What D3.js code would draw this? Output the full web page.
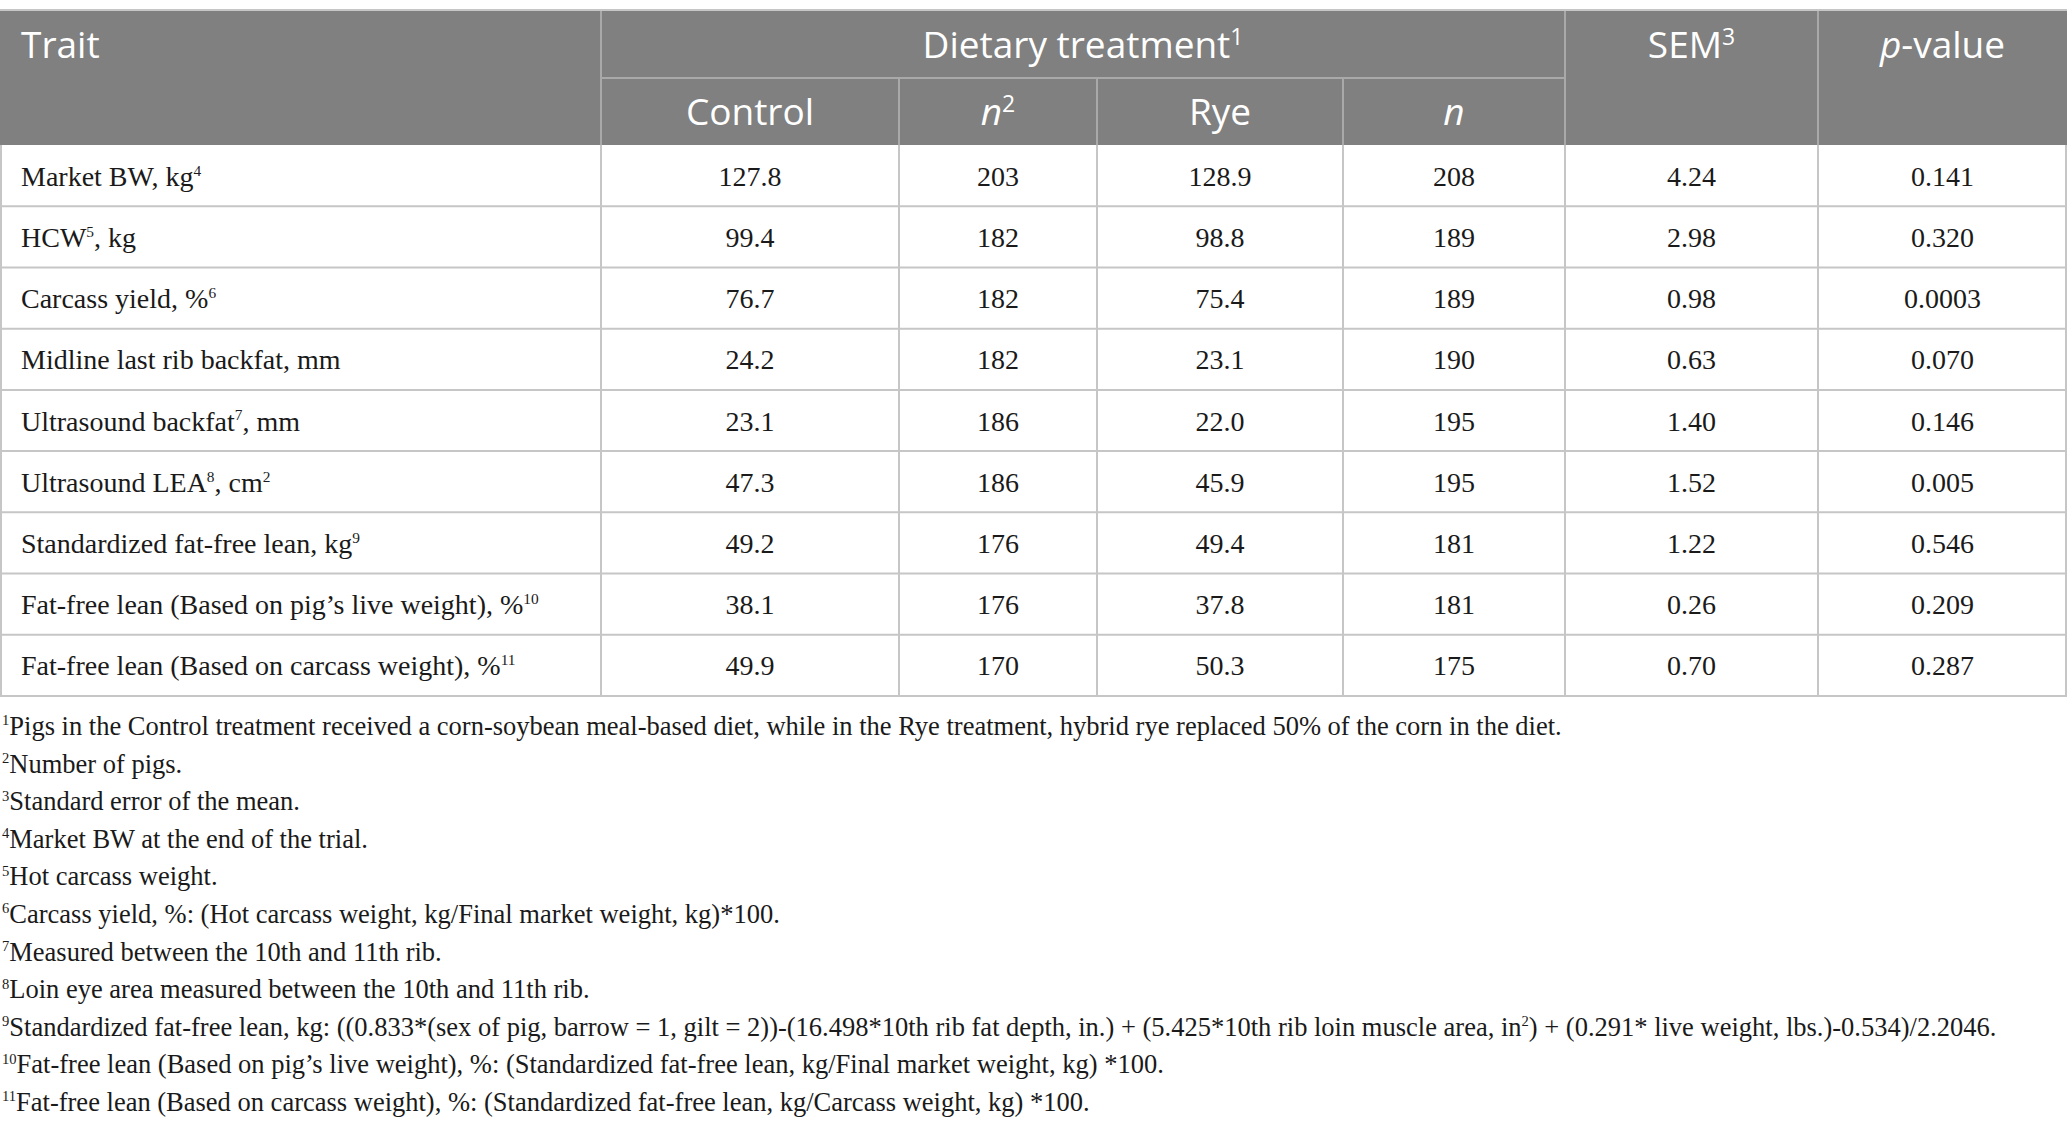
<!DOCTYPE html>
<html>
<head>
<meta charset="utf-8">
<script src="https://cdn.jsdelivr.net/npm/d3@7"></script>
<style>
  html, body { margin: 0; padding: 0; background: #fff; }
  svg { display: block; }
</style>
</head>
<body>
<svg id="chart" width="2067" height="1131"></svg>
<script>
// ---- data ----
let traits = [
    "Market BW, kg^{4}",
    "HCW^{5}, kg",
    "Carcass yield, %^{6}",
    "Midline last rib backfat, mm",
    "Ultrasound backfat^{7}, mm",
    "Ultrasound LEA^{8}, cm^{2}",
    "Standardized fat-free lean, kg^{9}",
    "Fat-free lean (Based on pig’s live weight), %^{10}",
    "Fat-free lean (Based on carcass weight), %^{11}"
];
let control = ["127.8", "99.4", "76.7", "24.2", "23.1", "47.3", "49.2", "38.1", "49.9"];
let nControl = [203, 182, 182, 182, 186, 186, 176, 176, 170];
let rye = ["128.9", "98.8", "75.4", "23.1", "22.0", "45.9", "49.4", "37.8", "50.3"];
let nRye = [208, 189, 189, 190, 195, 195, 181, 181, 175];
let sem = ["4.24", "2.98", "0.98", "0.63", "1.40", "1.52", "1.22", "0.26", "0.70"];
let pValue = ["0.141", "0.320", "0.0003", "0.070", "0.146", "0.005", "0.546", "0.209", "0.287"];

let columns = ["trait", "control", "nControl", "rye", "nRye", "sem", "pValue"];
let subHeaders = ["Control", "~{n}^{2}", "Rye", "~{n}"];

let footnotes = [
    "^{1}Pigs in the Control treatment received a corn-soybean meal-based diet, while in the Rye treatment, hybrid rye replaced 50% of the corn in the diet.",
    "^{2}Number of pigs.",
    "^{3}Standard error of the mean.",
    "^{4}Market BW at the end of the trial.",
    "^{5}Hot carcass weight.",
    "^{6}Carcass yield, %: (Hot carcass weight, kg/Final market weight, kg)*100.",
    "^{7}Measured between the 10th and 11th rib.",
    "^{8}Loin eye area measured between the 10th and 11th rib.",
    "^{9}Standardized fat-free lean, kg: ((0.833*(sex of pig, barrow = 1, gilt = 2))-(16.498*10th rib fat depth, in.) + (5.425*10th rib loin muscle area, in^{2}) + (0.291* live weight, lbs.)-0.534)/2.2046.",
    "^{10}Fat-free lean (Based on pig’s live weight), %: (Standardized fat-free lean, kg/Final market weight, kg) *100.",
    "^{11}Fat-free lean (Based on carcass weight), %: (Standardized fat-free lean, kg/Carcass weight, kg) *100."
];

// ---- layout ----
let svg = d3.select("#chart");
let width = parseInt(svg.attr("width"));

let tableTop = 10, headMid = 78, headBottom = 145, tableBottom = 696;
let colWidths = [601, 298, 198, 246, 222, 253, 249];
let colEdges = [0];
colWidths.forEach(function (w, i) { colEdges.push(colEdges[i] + w); });

let x = d3.scaleOrdinal().domain(columns).range(colEdges.slice(0, -1));
let xw = d3.scaleOrdinal().domain(columns).range(colWidths);
let y = d3.scaleBand().domain(d3.range(traits.length)).range([headBottom, tableBottom]);
let fy = d3.scalePoint().domain(d3.range(footnotes.length)).range([735, 1111]);

let headFont = "'Open Sans', 'Noto Sans', sans-serif";
let bodyFont = "'Liberation Serif', 'DejaVu Serif', serif";
let lineBody = "#c6c6c6", lineHead = "#a9a9a9";
let headSize = 37, bodySize = 28, footSize = 26.5;

// write text with ^{sup} and ~{italic} segments
function rich(textSel, str, size, supScale) {
    supScale = supScale || 0.62;
    let parts = str.split(/(\^\{[^}]*\}|~\{[^}]*\})/).filter(function (p) { return p.length; });
    let raised = 0;
    parts.forEach(function (p) {
        let t = textSel.append("tspan");
        if (p.startsWith("^{")) {
            let shift = size * 0.36;
            t.text(p.slice(2, -1)).attr("font-size", size * supScale).attr("dy", -shift + raised);
            raised = shift;
        } else if (p.startsWith("~{")) {
            t.text(p.slice(2, -1)).attr("font-style", "italic").attr("dy", raised);
            raised = 0;
        } else {
            t.text(p).attr("dy", raised);
            raised = 0;
        }
    });
}

// header background
svg.append("rect")
    .attr("x", 0).attr("y", tableTop)
    .attr("width", width).attr("height", headBottom - tableTop)
    .attr("fill", "#7f807f");

// header lines
let hl = svg.append("g").attr("stroke", lineHead).attr("stroke-width", 2);
hl.append("line").attr("x1", x("control")).attr("x2", x("sem"))
    .attr("y1", headMid).attr("y2", headMid);
columns.slice(1).forEach(function (c) {
    let top = (c === "control" || c === "sem" || c === "pValue") ? tableTop : headMid;
    hl.append("line").attr("x1", x(c)).attr("x2", x(c)).attr("y1", top).attr("y2", headBottom);
});

// header text
let head = svg.append("g").attr("fill", "#fff").attr("font-family", headFont).attr("font-size", headSize);
head.append("text").attr("x", 21).attr("y", 58).text("Trait");
rich(head.append("text").attr("text-anchor", "middle")
    .attr("x", (x("control") + x("sem")) / 2).attr("y", 58), "Dietary treatment^{1}", headSize);
rich(head.append("text").attr("text-anchor", "middle")
    .attr("x", x("sem") + xw("sem") / 2).attr("y", 58), "SEM^{3}", headSize);
rich(head.append("text").attr("text-anchor", "middle")
    .attr("x", x("pValue") + xw("pValue") / 2).attr("y", 58), "~{p}-value", headSize);
head.selectAll(null)
    .data(subHeaders)
    .enter()
    .append("text")
    .attr("text-anchor", "middle")
    .attr("x", function (d, i) { let c = columns[i + 1]; return x(c) + xw(c) / 2; })
    .attr("y", 125)
    .each(function (d) { rich(d3.select(this), d, headSize); });

// body grid
let grid = svg.append("g").attr("stroke", lineBody).attr("stroke-width", 2);
grid.selectAll(null)
    .data(d3.range(traits.length))
    .enter()
    .append("line")
    .attr("x1", 0).attr("x2", width)
    .attr("y1", function (i) { return y(i) + y.bandwidth(); })
    .attr("y2", function (i) { return y(i) + y.bandwidth(); });
grid.selectAll(null)
    .data(columns.slice(1))
    .enter()
    .append("line")
    .attr("x1", function (c) { return x(c); }).attr("x2", function (c) { return x(c); })
    .attr("y1", headBottom).attr("y2", tableBottom);
grid.append("line").attr("x1", 1).attr("x2", 1).attr("y1", headBottom).attr("y2", tableBottom);
grid.append("line").attr("x1", width - 1).attr("x2", width - 1).attr("y1", headBottom).attr("y2", tableBottom);
svg.append("line").attr("x1", 0).attr("x2", width).attr("y1", tableTop).attr("y2", tableTop)
    .attr("stroke", lineBody).attr("stroke-width", 2);

// body text
let rows = traits.map(function (t, i) {
    return { trait: t, control: control[i], nControl: nControl[i], rye: rye[i],
        nRye: nRye[i], sem: sem[i], pValue: pValue[i] };
});
let body = svg.append("g").attr("fill", "#1a1a1a").attr("font-family", bodyFont).attr("font-size", bodySize);
rows.forEach(function (r, i) {
    let by = y(i) + y.bandwidth() / 2 + 10;
    rich(body.append("text").attr("x", 21).attr("y", by), r.trait, bodySize, 0.55);
    columns.slice(1).forEach(function (c) {
        body.append("text")
            .attr("text-anchor", "middle")
            .attr("x", x(c) + xw(c) / 2)
            .attr("y", by)
            .text(r[c]);
    });
});

// footnotes
let foot = svg.append("g").attr("fill", "#1a1a1a").attr("font-family", bodyFont).attr("font-size", footSize);
foot.selectAll(null)
    .data(footnotes)
    .enter()
    .append("text")
    .attr("x", 2)
    .attr("y", function (d, i) { return fy(i); })
    .each(function (d) { rich(d3.select(this), d, footSize, 0.55); });
</script>
</body>
</html>
